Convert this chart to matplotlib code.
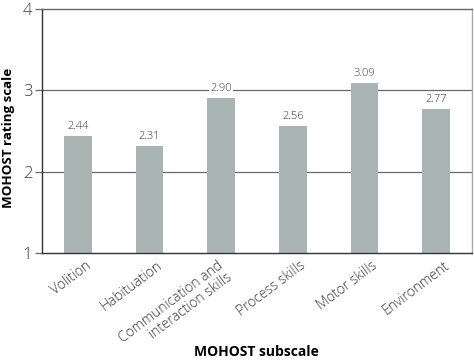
import numpy as np
import matplotlib.pyplot as plt
from matplotlib.transforms import ScaledTranslation

plt.rcParams['font.family'] = ['Open Sans', 'DejaVu Sans']

categories = ['Volition', 'Habituation', 'Communication and\ninteraction skills',
              'Process skills', 'Motor skills', 'Environment']
values = [2.44, 2.31, 2.90, 2.56, 3.09, 2.77]
yticks = [1, 2, 3, 4]

fig = plt.figure(figsize=(4.74, 3.62), dpi=100)
ax = fig.add_axes([42 / 474, 1 - 253 / 362, 430 / 474, 244 / 362])

x = np.arange(len(categories))
ax.bar(x, values, width=0.39, bottom=0, color='#aab5b3', zorder=2)
ax.set_xlim(-0.5, 5.5)
ax.set_ylim(1, 4)

for yv in [2, 3]:
    ax.axhline(yv, color='#6a6a6a', lw=0.9, zorder=1)

for xi, v in zip(x, values):
    ax.text(xi, v + 0.05, f'{v:.2f}', ha='center', va='bottom', fontsize=8,
            color='#3a3a3a', zorder=3, fontweight='light',
            bbox=dict(facecolor='white', edgecolor='none', pad=1.0))

ax.set_yticks(yticks)
ax.set_yticklabels([str(t) for t in yticks], fontsize=12, color='#3a3a3a',
                   fontweight='light')
ax.tick_params(axis='y', length=5, width=0.9, color='#6a6a6a', pad=2)
ax.set_xticks(x)
ax.set_xticklabels(categories, rotation=37, ha='right', rotation_mode='anchor',
                   fontsize=10, color='#3a3a3a', multialignment='right',
                   linespacing=1.0, fontweight='light')
ax.tick_params(axis='x', length=0, pad=4)
for i, lbl in enumerate(ax.get_xticklabels()):
    dx = 0.07 if i != 2 else -0.04
    lbl.set_transform(lbl.get_transform() + ScaledTranslation(dx, 0, fig.dpi_scale_trans))

ax.spines['left'].set_color('#333333')
ax.spines['bottom'].set_color('#333333')
ax.spines['top'].set_color('#666666')
ax.spines['right'].set_color('#aaaaaa')
for s in ax.spines.values():
    s.set_linewidth(1.0)

ax.set_ylabel('MOHOST rating scale', fontsize=9.6, fontweight='bold')
ax.yaxis.set_label_coords(-0.062, 0.47)
fig.text(256 / 474, 1 - 352 / 362, 'MOHOST subscale', ha='center', va='center',
         fontsize=10, fontweight='bold')

plt.savefig('out.png', dpi=100)
